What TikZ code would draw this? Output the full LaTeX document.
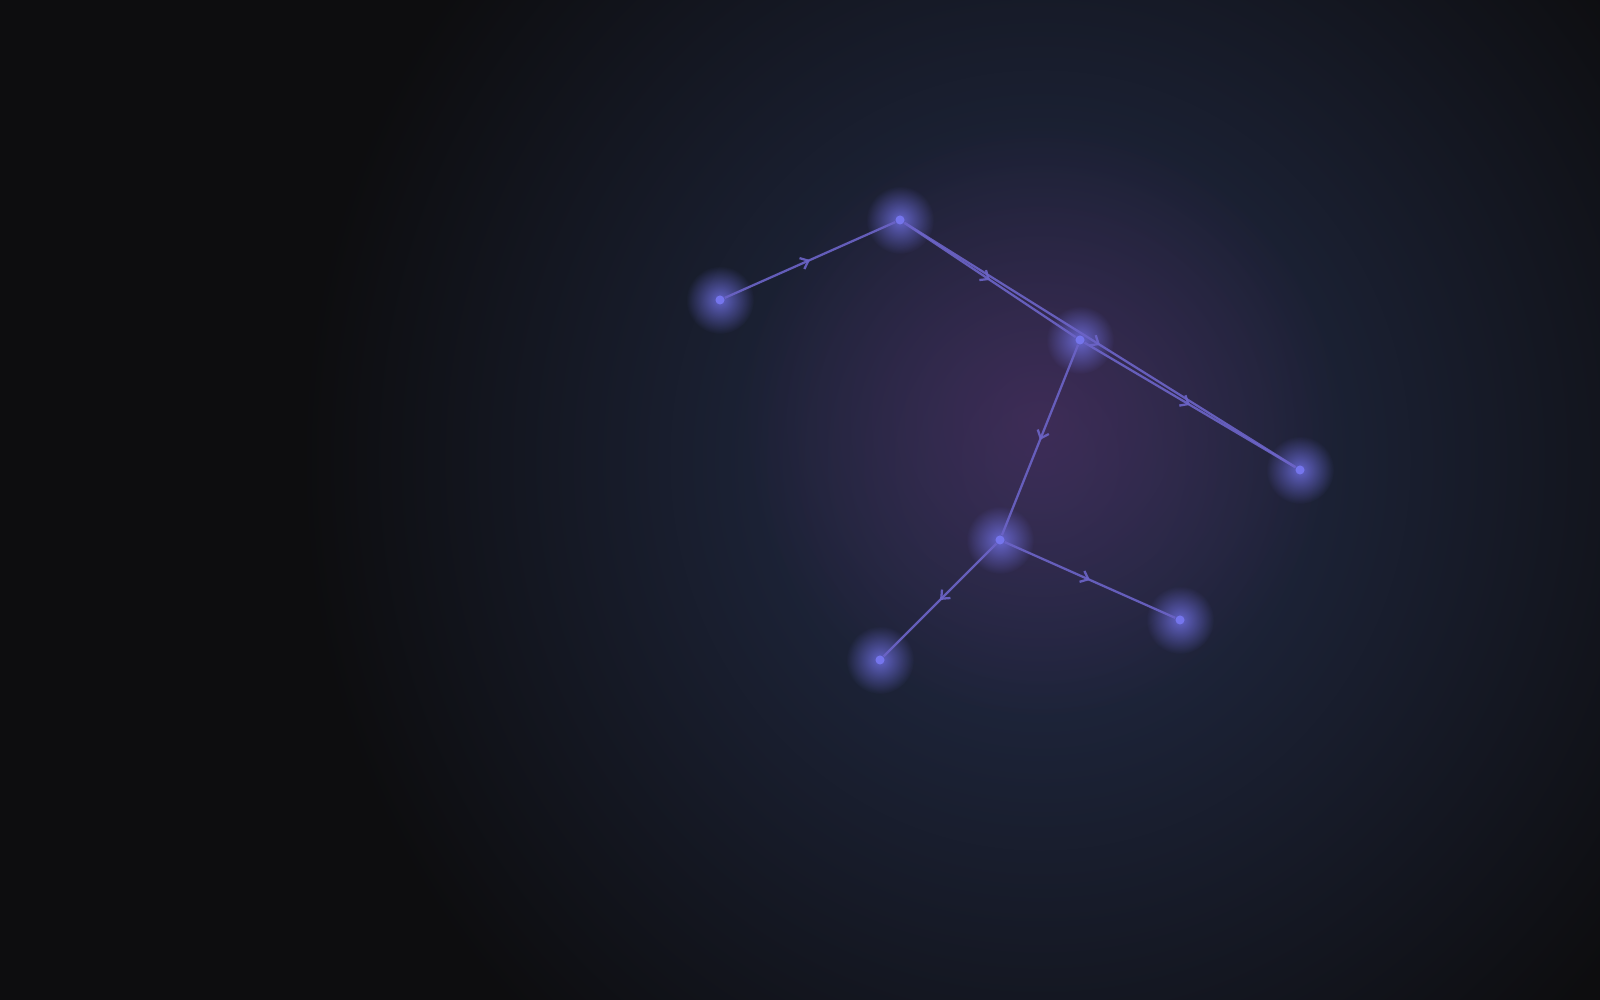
\documentclass[tikz,border=0pt]{standalone}
\usepackage{tikz}
\usetikzlibrary{arrows.meta, decorations.markings, fadings}
\definecolor{bgdark}{RGB}{13, 13, 15}
\definecolor{bgnavy}{RGB}{36, 46, 76}
\definecolor{nebula}{RGB}{80, 44, 96}
\definecolor{starblue}{RGB}{125, 125, 245}
\definecolor{glowblue}{RGB}{115, 115, 235}
\definecolor{linkviolet}{RGB}{108, 100, 200}
\tikzfading[name=glowfade, inner color=transparent!0, outer color=transparent!100]

\begin{document}
\begin{tikzpicture}[
  star/.style={circle, fill=starblue, inner sep=0pt, minimum size=0.9mm},
  link/.style={linkviolet, line width=0.65pt, draw opacity=0.9,
               postaction={decorate},
               decoration={markings, mark=at position 0.5 with {\arrow{Straight Barb[length=2pt, width=3.4pt]}}}},
]
% Background
\fill[bgdark] (0, 0) rectangle (16, 10);
\begin{scope}
\clip (0, 0) rectangle (16, 10);
\shade[inner color=bgnavy, outer color=bgdark] (10.4, 5.4) ellipse (7.4 and 7.8);
\fill[nebula, fill opacity=0.6, path fading=glowfade] (10.4, 5.8) ellipse (3 and 3);
\end{scope}

% Stars
\node[star] (a) at (7.2, 7.0) {};
\node[star] (b) at (9.0, 7.8) {};
\node[star] (c) at (10.8, 6.6) {};
\node[star] (d) at (13.0, 5.3) {};
\node[star] (e) at (10.0, 4.6) {};
\node[star] (f) at (8.8, 3.4) {};
\node[star] (g) at (11.8, 3.8) {};

% Glow
\foreach \s in {a, b, c, d, e, f, g}
  \fill[glowblue, fill opacity=0.8, path fading=glowfade] (\s) circle (0.34);

% Links
\draw[link] (a) -- (b);
\draw[link] (b) -- (c);
\draw[link] (b) -- (d);
\draw[link] (c) -- (d);
\draw[link] (c) -- (e);
\draw[link] (e) -- (f);
\draw[link] (e) -- (g);
\end{tikzpicture}
\end{document}
